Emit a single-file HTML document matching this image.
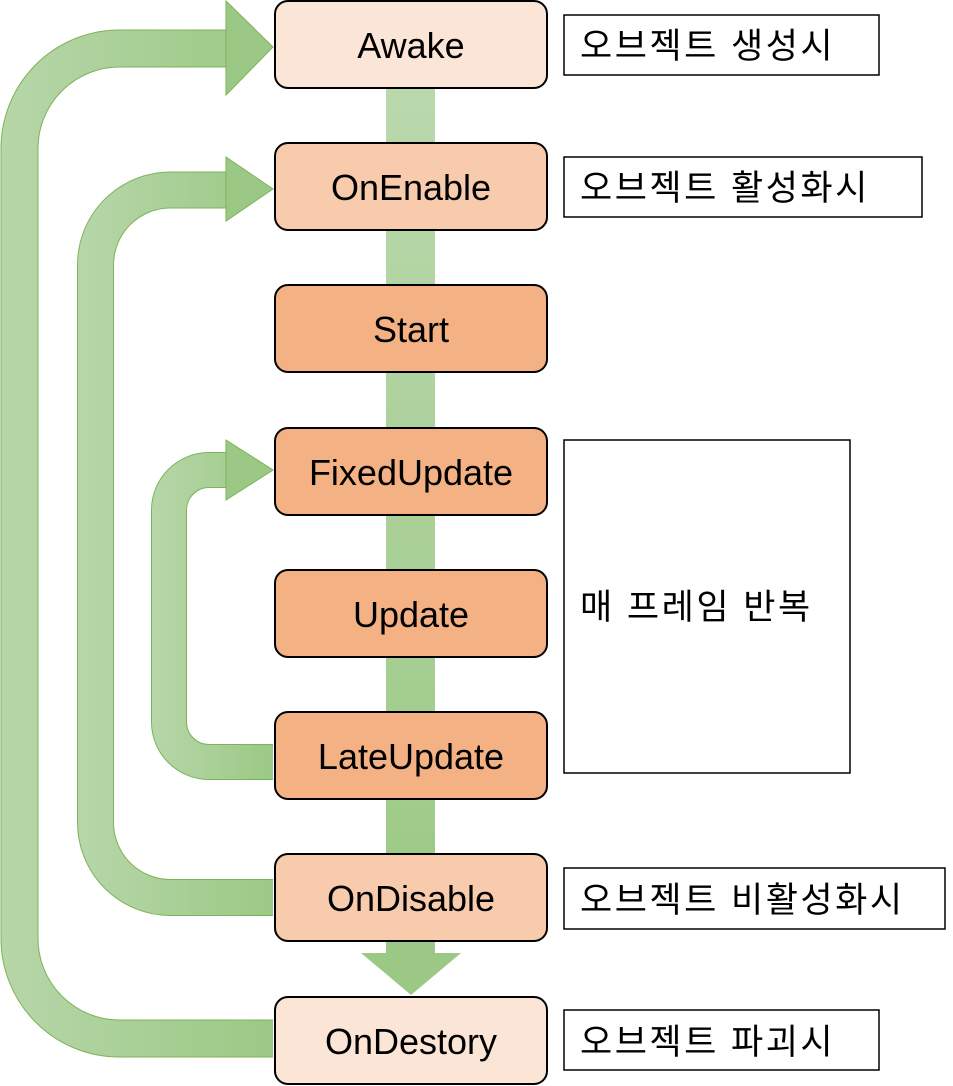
<!DOCTYPE html>
<html><head><meta charset="utf-8"><style>
body{margin:0;background:#fff;}
svg{display:block;}
text{font-family:"Liberation Sans","Noto Sans CJK KR",sans-serif;}
</style></head><body>
<svg width="953" height="1086" viewBox="0 0 953 1086" xmlns="http://www.w3.org/2000/svg">
<defs>
<linearGradient id="v" x1="0" y1="0" x2="0" y2="1">
<stop offset="0" stop-color="#BAD8AC"/><stop offset="1" stop-color="#9BC985"/></linearGradient>
<linearGradient id="h1" gradientUnits="userSpaceOnUse" x1="0" y1="0" x2="273" y2="0">
<stop offset="0" stop-color="#B7D6A9"/><stop offset="1" stop-color="#9BC985"/></linearGradient>
<linearGradient id="h2" gradientUnits="userSpaceOnUse" x1="78" y1="0" x2="273" y2="0">
<stop offset="0" stop-color="#B7D6A9"/><stop offset="1" stop-color="#9BC985"/></linearGradient>
<linearGradient id="h3" gradientUnits="userSpaceOnUse" x1="152" y1="0" x2="273" y2="0">
<stop offset="0" stop-color="#B7D6A9"/><stop offset="1" stop-color="#9BC985"/></linearGradient>
</defs>
<rect x="386" y="80" width="49" height="875" fill="url(#v)"/>
<polygon points="361,953 461,953 411,995" fill="#9BC985"/>
<path d="M273,1038.5 H120 A100,100 0 0 1 19.5,938.5 V148.5 A100,100 0 0 1 120,48.5 H230" fill="none" stroke="#7DB35A" stroke-width="38"/>
<path d="M273,1038.5 H120 A100,100 0 0 1 19.5,938.5 V148.5 A100,100 0 0 1 120,48.5 H230" fill="none" stroke="url(#h1)" stroke-width="36"/>
<polygon points="226,1 273,47 226,95" fill="#9BC985" stroke="#7DB35A" stroke-width="1"/>
<path d="M273,897.5 H170 A75,75 0 0 1 95.5,822.5 V265 A75,75 0 0 1 170,190 H230" fill="none" stroke="#7DB35A" stroke-width="37"/>
<path d="M273,897.5 H170 A75,75 0 0 1 95.5,822.5 V265 A75,75 0 0 1 170,190 H230" fill="none" stroke="url(#h2)" stroke-width="35"/>
<polygon points="226,157 273,189 226,221" fill="#9BC985" stroke="#7DB35A" stroke-width="1"/>
<path d="M273,762 H209 A40,40 0 0 1 169,722 V510 A40,40 0 0 1 209,470 H230" fill="none" stroke="#7DB35A" stroke-width="36"/>
<path d="M273,762 H209 A40,40 0 0 1 169,722 V510 A40,40 0 0 1 209,470 H230" fill="none" stroke="url(#h3)" stroke-width="34"/>
<polygon points="226,440 273,470 226,500" fill="#9BC985" stroke="#7DB35A" stroke-width="1"/>
<g stroke="#000" stroke-width="2">
<rect x="275" y="1" width="272" height="87" rx="13" fill="#FBE5D6"/>
<rect x="275" y="143" width="272" height="87" rx="13" fill="#F8CBAD"/>
<rect x="275" y="285" width="272" height="87" rx="13" fill="#F4B183"/>
<rect x="275" y="428" width="272" height="87" rx="13" fill="#F4B183"/>
<rect x="275" y="570" width="272" height="87" rx="13" fill="#F4B183"/>
<rect x="275" y="712" width="272" height="87" rx="13" fill="#F4B183"/>
<rect x="275" y="854" width="272" height="87" rx="13" fill="#F8CBAD"/>
<rect x="275" y="997" width="272" height="87" rx="13" fill="#FBE5D6"/>
</g>
<g font-size="36" text-anchor="middle" fill="#000">
<text x="411" y="58">Awake</text>
<text x="411" y="200">OnEnable</text>
<text x="411" y="342">Start</text>
<text x="411" y="485">FixedUpdate</text>
<text x="411" y="627">Update</text>
<text x="411" y="769">LateUpdate</text>
<text x="411" y="911">OnDisable</text>
<text x="411" y="1054">OnDestory</text>
</g>
<g fill="#fff" stroke="#000" stroke-width="1.5">
<rect x="564" y="15" width="315" height="60"/>
<rect x="564" y="157" width="358" height="60"/>
<rect x="564" y="440" width="286" height="333"/>
<rect x="564" y="868" width="381" height="61"/>
<rect x="564" y="1010" width="315" height="60"/>
</g>
<g font-size="35" fill="#000" letter-spacing="2.5">
<text x="580" y="58">오브젝트 생성시</text>
<text x="580" y="200">오브젝트 활성화시</text>
<text x="580" y="619">매 프레임 반복</text>
<text x="580" y="912">오브젝트 비활성화시</text>
<text x="580" y="1054">오브젝트 파괴시</text>
</g>
</svg>
</body></html>
